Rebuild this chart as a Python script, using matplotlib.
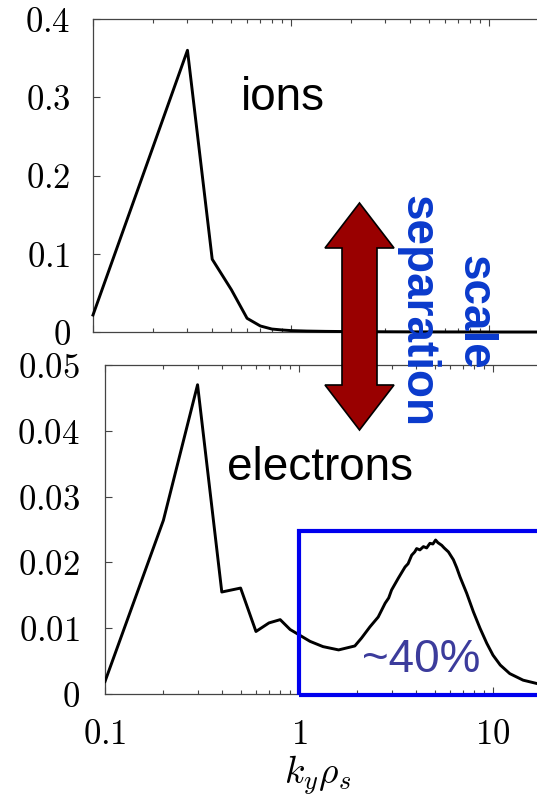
import matplotlib
matplotlib.use("Agg")
import matplotlib.pyplot as plt
import matplotlib.patches as mpatches
from matplotlib.ticker import FixedLocator, FixedFormatter, LogLocator, NullFormatter

plt.rcParams['mathtext.fontset'] = 'cm'
plt.rcParams['font.family'] = ['Liberation Sans', 'DejaVu Sans']

# ion spectrum (upper panel)
ky_ion = [0.1, 0.2, 0.3, 0.4, 0.5, 0.6, 0.7, 0.8, 0.9, 1.0, 1.2, 1.5, 2.0, 3.0, 4.0, 6.0, 8.0, 10.0, 14.0, 20.0]
flux_ion = [0.0217, 0.235, 0.360, 0.093, 0.054, 0.0175, 0.0077, 0.0038, 0.0026, 0.0018,
            0.0012, 0.0008, 0.0005, 0.0003, 0.0002, 0.0001, 0.0001, 0.0, 0.0, 0.0]

# electron spectrum (lower panel)
ky_ele = [0.1, 0.2, 0.3, 0.4, 0.5, 0.6, 0.7, 0.8, 0.9, 1.0,
          1.14, 1.33, 1.6, 1.94, 2.1, 2.32, 2.56, 2.78, 2.9, 3.0,
          3.25, 3.52, 3.65, 3.81, 3.95, 4.04, 4.2, 4.38, 4.55, 4.73,
          4.9, 5.06, 5.2, 5.44, 5.6, 5.89, 6.25, 6.5, 6.76, 7.32,
          7.92, 8.57, 9.29, 10.0, 10.9, 12.2, 14.3, 16.8, 20.0]
flux_ele = [0.0019, 0.0264, 0.0470, 0.0155, 0.0161, 0.0095, 0.0108, 0.0113, 0.0098, 0.0090,
            0.0080, 0.0072, 0.0067, 0.0073, 0.0085, 0.0102, 0.0117, 0.0138, 0.0146, 0.0158,
            0.0176, 0.0193, 0.0198, 0.0211, 0.0216, 0.0221, 0.0219, 0.0224, 0.0222, 0.0229,
            0.0228, 0.0234, 0.0230, 0.0226, 0.0222, 0.0216, 0.0204, 0.0192, 0.0178, 0.0153,
            0.0125, 0.0100, 0.0077, 0.0059, 0.0044, 0.0031, 0.0021, 0.0016, 0.0012]

ion_ticks = [0, 0.1, 0.2, 0.3, 0.4]
ion_labels = ['0', '0.1', '0.2', '0.3', '0.4']
ele_ticks = [0, 0.01, 0.02, 0.03, 0.04, 0.05]
ele_labels = ['0', '0.01', '0.02', '0.03', '0.04', '0.05']
x_ticks = [0.1, 1, 10]
x_labels = ['0.1', '1', '10']

W, H = 537, 799
fig = plt.figure(figsize=(W / 100, H / 100), dpi=100)


def px(x, y):
    return x / W, 1 - y / H


XMIN, XMAX = 0.1, 20.0
ax1 = fig.add_axes([93 / W, 1 - 332 / H, 455.6 / W, 313 / H])
ax2 = fig.add_axes([105 / W, 1 - 694 / H, 446.4 / W, 329 / H])


def style(ax, yticks, ylabels, ypad, show_x):
    ax.set_xscale('log')
    ax.set_xlim(XMIN, XMAX)
    ax.xaxis.set_major_locator(FixedLocator(x_ticks))
    ax.xaxis.set_minor_locator(LogLocator(base=10, subs=range(2, 10)))
    ax.xaxis.set_minor_formatter(NullFormatter())
    if show_x:
        ax.xaxis.set_major_formatter(FixedFormatter(['$%s$' % s for s in x_labels]))
    else:
        ax.xaxis.set_major_formatter(NullFormatter())
    ax.yaxis.set_major_locator(FixedLocator(yticks))
    ax.yaxis.set_major_formatter(FixedFormatter(['$%s$' % s for s in ylabels]))
    ax.set_ylim(yticks[0], yticks[-1])
    ax.tick_params(which='both', direction='in', top=True, right=False,
                   color='#444444', width=0.8, labelsize=25)
    ax.tick_params(which='major', length=5)
    ax.tick_params(which='minor', length=3)
    ax.tick_params(axis='y', pad=ypad)
    ax.tick_params(axis='x', pad=17)
    for s in ax.spines.values():
        s.set_color('#444444')
        s.set_linewidth(0.9)


style(ax1, ion_ticks, ion_labels, 16, False)
style(ax2, ele_ticks, ele_labels, 18, True)

ax1.plot(ky_ion, flux_ion, color='black', lw=2.1, clip_on=False, zorder=3)
ax2.plot(ky_ele, flux_ele, color='black', lw=2.1, zorder=3)

ax2.set_xlabel(r'$k_y\rho_s$', fontsize=27)
ax2.xaxis.set_label_coords((318 - 105) / 446.4, -0.18)

# highlighted high-k region
box = mpatches.Rectangle((1.0, -0.0002), 40.0, 0.025, fill=False,
                         edgecolor='#0000ee', lw=3, clip_on=False, zorder=4)
ax2.add_patch(box)

fig.text(*px(240.7, 110), 'ions', fontsize=33, ha='left', va='baseline')
fig.text(*px(226.7, 480), 'electrons', fontsize=33, ha='left', va='baseline')
fig.text(*px(361.7, 671.7), '~40%', fontsize=33, color='#3c3c9c',
         ha='left', va='baseline', zorder=5)

fig.text(*px(417, 311), 'separation', fontsize=33, fontweight='bold',
         color='#0a3acc', rotation=-90, ha='center', va='center')
fig.text(*px(474, 312), 'scale', fontsize=33, fontweight='bold',
         color='#0a3acc', rotation=-90, ha='center', va='center')


# double-headed arrow between the panels
def double_arrow(xc, y_top, y_bot, shaft_w, head_w, head_l):
    s, h = shaft_w / 2, head_w / 2
    verts = [(xc, y_top), (xc + h, y_top + head_l), (xc + s, y_top + head_l),
             (xc + s, y_bot - head_l), (xc + h, y_bot - head_l), (xc, y_bot),
             (xc - h, y_bot - head_l), (xc - s, y_bot - head_l),
             (xc - s, y_top + head_l), (xc - h, y_top + head_l)]
    return [px(x, y) for x, y in verts]


arrow = mpatches.Polygon(double_arrow(359.5, 203, 430, 35, 69, 45), closed=True,
                         facecolor='#990000', edgecolor='black', lw=1.2,
                         transform=fig.transFigure, zorder=6)
fig.patches.append(arrow)

fig.savefig('out.png', dpi=100)
